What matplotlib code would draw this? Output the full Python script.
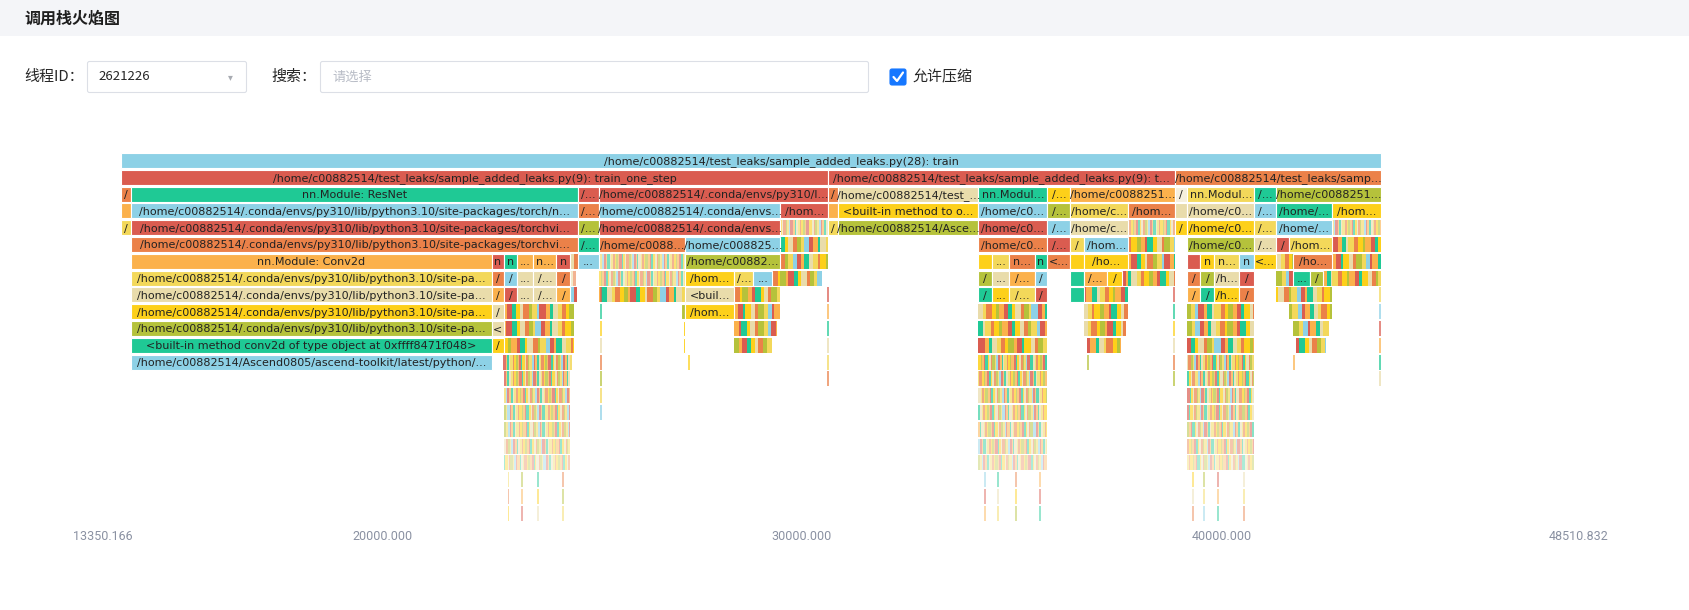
import matplotlib
matplotlib.use('Agg')
import matplotlib.pyplot as plt
from matplotlib.patches import Rectangle, FancyBboxPatch

# ---------------- data ----------------
x_ticks = [13350.166, 20000.0, 30000.0, 40000.0, 48510.832]
x_tick_labels = ['13350.166', '20000.000', '30000.000', '40000.000', '48510.832']
x_min, x_max = 13350.166, 48510.832
n_rows = 22

# frames per depth: (start, end, colour key, label)
row0 = [(13779, 43793, 'S', '/home/c00882514/test_leaks/sample_added_leaks.py(28): train')]
row0_label_at = 29512
row1 = [(13779, 30620, 'R', '/home/c00882514/test_leaks/sample_added_leaks.py(9): train_one_step'),
        (30620, 38886, 'R', '/home/c00882514/test_leaks/sample_added_leaks.py(9): t...'),
        (38886, 43793, 'O', '/home/c00882514/test_leaks/samp...')]
row2 = [(13779, 14029, 'O', '/'), (14029, 24665, 'G', 'nn.Module: ResNet'),
        (24665, 25165, 'R', '/...'), (25165, 30620, 'R', '/home/c00882514/.conda/envs/py310/l...'),
        (30620, 30859, 'O', '/'), (30859, 34205, 'B', '/home/c00882514/test_...'),
        (34205, 35849, 'G', 'nn.Modul...'), (35849, 36397, 'Y', '/...'),
        (36397, 38886, 'L', '/home/c0088251...'), (38886, 39184, 'P', '/'),
        (39184, 40780, 'W', 'nn.Modul...'), (40780, 41292, 'G', '/...'),
        (41292, 43793, 'V', '/home/c0088251...')]
row3 = [(13779, 14029, 'L', ''),
        (14029, 24665, 'S', '/home/c00882514/.conda/envs/py310/lib/python3.10/site-packages/torch/n...'),
        (24665, 25165, 'O', '/...'), (25165, 29489, 'S', '/home/c00882514/.conda/envs...'),
        (29489, 30620, 'R', '/hom...'), (30620, 30859, 'L', ''),
        (30859, 34205, 'Y', '<built-in method to o...'), (34205, 35849, 'S', '/home/c0...'),
        (35849, 36397, 'V', '/...'), (36397, 37779, 'W', '/home/c...'),
        (37779, 38886, 'O', '/hom...'), (38886, 39184, 'B', ''),
        (39184, 40780, 'B', '/home/c0...'), (40780, 41292, 'S', '/...'),
        (41292, 42638, 'G', '/home/...'), (42638, 43793, 'Y', '/hom...')]
row4 = [(13779, 14029, 'W', '/'),
        (14029, 24665, 'R', '/home/c00882514/.conda/envs/py310/lib/python3.10/site-packages/torchvi...'),
        (24665, 25165, 'V', '/...'), (25165, 29489, 'R', '/home/c00882514/.conda/envs...'),
        (30620, 30859, 'W', '/'), (30859, 34205, 'V', '/home/c00882514/Asce...'),
        (34205, 35849, 'R', '/home/c0...'), (35849, 36397, 'S', '/...'),
        (36397, 37779, 'B', '/home/c...'), (38886, 39184, 'Y', '/'),
        (39184, 40780, 'Y', '/home/c0...'), (40780, 41292, 'W', '/...'),
        (41292, 42638, 'S', '/home/...')]
row5 = [(14029, 24665, 'O', '/home/c00882514/.conda/envs/py310/lib/python3.10/site-packages/torchvi...'),
        (24665, 25165, 'G', '/...'), (25165, 27226, 'O', '/home/c0088...'),
        (27226, 29489, 'S', '/home/c008825...'),
        (34205, 35849, 'O', '/home/c0...'), (35849, 36397, 'R', '/...'),
        (36397, 36719, 'W', '/'), (36719, 37779, 'S', '/hom...'),
        (39184, 40780, 'V', '/home/c0...'), (40780, 41292, 'B', '/...'),
        (41292, 41614, 'R', '/'), (41614, 42638, 'W', '/hom...')]
row6 = [(14029, 22605, 'L', 'nn.Module: Conv2d'), (22605, 22902, 'R', 'n'),
        (22902, 23224, 'G', 'n'), (23224, 23605, 'L', '...'), (23605, 24153, 'L', 'n...'),
        (24153, 24486, 'R', 'n'), (24665, 25165, 'S', '...'),
        (27226, 29489, 'V', '/home/c00882...'),
        (34205, 34527, 'Y', ''), (34527, 34944, 'W', '...'), (34944, 35540, 'O', 'n...'),
        (35540, 35849, 'G', 'n'), (35849, 36397, 'O', '<...'), (36397, 36719, 'Y', ''),
        (36719, 37779, 'Y', '/ho...'),
        (39184, 39494, 'R', ''), (39494, 39827, 'Y', 'n'), (39827, 40423, 'W', 'n...'),
        (40423, 40780, 'S', 'n'), (40780, 41292, 'Y', '<...'), (41709, 42638, 'O', '/ho...')]
row7 = [(14029, 22605, 'W', '/home/c00882514/.conda/envs/py310/lib/python3.10/site-pa...'),
        (22605, 22902, 'O', '/'), (22902, 23224, 'S', '/'), (23224, 23605, 'B', '...'),
        (23605, 24153, 'B', '/...'), (24153, 24486, 'O', '/'),
        (27226, 28393, 'Y', '/hom...'), (28393, 28846, 'W', '/...'), (28846, 29298, 'S', '...'),
        (34205, 34527, 'V', '/'), (34527, 34944, 'B', '...'), (34944, 35540, 'L', '/...'),
        (35540, 35849, 'S', '/'), (36397, 36719, 'G', ''), (36719, 37278, 'L', '/...'),
        (37278, 37636, 'Y', '/'),
        (39184, 39494, 'O', '/'), (39494, 39827, 'V', '/'), (39827, 40423, 'B', '/h...'),
        (40423, 40780, 'R', '/'), (41709, 42102, 'G', '...'), (42102, 42424, 'V', '/')]
row8 = [(14029, 22605, 'B', '/home/c00882514/.conda/envs/py310/lib/python3.10/site-pa...'),
        (22605, 22902, 'L', '/'), (22902, 23224, 'R', '/'), (23224, 23605, 'B', '...'),
        (23605, 24153, 'B', '/...'), (24153, 24486, 'L', '/'),
        (27226, 28393, 'B', '<buil...'),
        (34205, 34527, 'G', '/'), (34527, 34944, 'Y', '...'), (34944, 35540, 'W', '/...'),
        (35540, 35849, 'R', '/'), (36397, 36719, 'G', ''),
        (39184, 39494, 'L', '/'), (39494, 39827, 'G', '/'), (39827, 40423, 'Y', '/h...'),
        (40423, 40780, 'O', '/')]
row9 = [(14029, 22605, 'Y', '/home/c00882514/.conda/envs/py310/lib/python3.10/site-pa...'),
        (22605, 22902, 'B', '/'), (27110, 27226, 'V', ''), (27226, 28393, 'Y', '/hom...')]
row10 = [(14029, 22605, 'V', '/home/c00882514/.conda/envs/py310/lib/python3.10/site-pa...'),
         (22605, 22902, 'B', '<'), (27170, 27226, 'Y', '')]
row11 = [(14029, 22605, 'G', '<built-in method conv2d of type object at 0xffff8471f048>'),
         (22605, 22902, 'Y', '/'), (27170, 27226, 'Y', '')]
row12 = [(14029, 22605, 'S', '/home/c00882514/Ascend0805/ascend-toolkit/latest/python/...')]
frames = [row0, row1, row2, row3, row4, row5, row6, row7, row8, row9, row10, row11, row12]

# blocks made of many tiny frames: (depth, start, end, texture kind)
tiny_blocks = [
    (4, 29489, 30620, 'f'), (4, 37779, 38886, 'f'), (4, 42638, 43793, 'f'),
    (5, 29489, 30620, 'c'), (5, 37779, 38886, 'c'), (5, 42638, 43793, 'c'),
    (6, 24486, 24665, 'c'), (6, 25165, 27226, 'f'), (6, 29489, 30620, 'c'),
    (6, 37779, 38886, 'c'), (6, 41292, 41709, 'c'), (6, 42638, 43793, 'c'),
    (7, 24486, 24620, 'f'), (7, 25165, 27226, 'f'), (7, 29298, 29489, 'c'),
    (7, 29489, 30470, 'c'), (7, 37636, 37779, 'c'), (7, 37779, 38886, 'c'),
    (7, 41292, 41709, 'c'), (7, 42424, 42638, 'c'), (7, 42638, 43793, 'c'),
    (8, 24486, 24650, 'c'), (8, 25165, 27226, 'c'), (8, 28393, 29489, 'c'),
    (8, 36719, 37779, 'c'), (8, 41292, 42638, 'c'),
    (9, 22902, 24580, 'c'), (9, 28393, 29489, 'c'), (9, 34205, 35849, 'c'),
    (9, 36719, 37779, 'c'), (9, 39184, 40780, 'c'), (9, 41614, 42638, 'c'),
    (10, 22902, 24580, 'c'), (10, 28393, 29400, 'c'), (10, 34205, 35849, 'c'),
    (10, 36719, 37730, 'c'), (10, 39184, 40780, 'c'), (10, 41709, 42560, 'c'),
    (11, 22902, 24580, 'c'), (11, 28393, 29298, 'c'), (11, 34205, 35849, 'c'),
    (11, 36800, 37600, 'c'), (11, 39184, 40780, 'c'), (11, 41780, 42480, 'c'),
    (12, 22880, 24530, 'f'), (12, 34205, 35849, 'f'), (12, 39184, 40780, 'f'),
    (13, 22902, 24486, 'f'), (13, 34205, 35849, 'f'), (13, 39184, 40780, 'f'),
    (14, 22902, 24486, 'f'), (14, 34205, 35849, 'f'), (14, 39184, 40780, 'f'),
    (15, 22902, 24486, 'f'), (15, 34205, 35849, 'f'), (15, 39184, 40780, 'f'),
    (16, 22902, 24486, 'f'), (16, 34205, 35849, 'f'), (16, 39184, 40780, 'f'),
    (17, 22902, 24486, 'f'), (17, 34205, 35849, 'f'), (17, 39184, 40780, 'f'),
    (18, 22902, 24486, 'f'), (18, 34205, 35849, 'f'), (18, 39184, 40780, 'f'),
]

# single very narrow frames: (first depth, last depth, start)
thin_frames = [
    (8, 15, 25189), (8, 13, 30597), (12, 12, 27285), (12, 12, 36790), (12, 12, 41697),
    (8, 13, 38850), (8, 13, 43746),
    (19, 21, 22986), (19, 21, 23307), (19, 21, 23688), (19, 21, 24284),
    (19, 21, 34336), (19, 21, 34646), (19, 21, 35075), (19, 21, 35647),
    (19, 21, 39291), (19, 21, 39553), (19, 21, 39887), (19, 21, 40506),
]

# ---------------- style ----------------
COL = {'S': '#8dd1e6', 'R': '#da5c50', 'O': '#eb8149', 'G': '#1fc995', 'L': '#fbb14c',
       'Y': '#fdd01a', 'W': '#f3d85a', 'B': '#e9dcab', 'V': '#b5c23b', 'P': '#f6f0de'}
stripe_cycle = ['Y', 'B', 'O', 'V', 'W', 'S', 'R', 'L', 'G', 'B', 'W', 'O', 'Y', 'V', 'L', 'R', 'G']
stripe_rel = [1.0, 0.6, 1.4, 0.8, 1.2, 0.5, 1.5, 1.0, 0.7, 1.3, 0.9]

W_PX, H_PX = 1690, 610
fig = plt.figure(figsize=(16.9, 6.1), dpi=100)
fig.patch.set_facecolor('white')

# ---------- page chrome ----------
ui = fig.add_axes([0, 0, 1, 1])
ui.set_xlim(0, W_PX)
ui.set_ylim(H_PX, 0)
ui.axis('off')
cjk = ['Noto Sans CJK SC', 'DejaVu Sans']
ui.add_patch(Rectangle((0, 0), W_PX, 36, facecolor='#f4f5f8', edgecolor='none'))
ui.text(24, 19, '调用栈火焰图', fontsize=11.5, fontweight='bold', family=cjk,
        color='#1f1f1f', va='center', ha='left')
ui.text(24, 77, '线程ID：', fontsize=10.8, family=cjk, color='#262626', va='center', ha='left')
ui.add_patch(FancyBboxPatch((87.5, 61.5), 159, 31, boxstyle='round,pad=0,rounding_size=2',
                            facecolor='white', edgecolor='#dcdfe6', lw=0.8))
ui.text(98, 77, '2621226', fontsize=9.5, family=cjk, color='#262626', va='center', ha='left')
ui.text(230, 77, '▾', fontsize=7, family='DejaVu Sans', color='#a8abb2', va='center', ha='center')
ui.text(271, 77, '搜索：', fontsize=10.8, family=cjk, color='#262626', va='center', ha='left')
ui.add_patch(FancyBboxPatch((320.5, 61.5), 548, 31, boxstyle='round,pad=0,rounding_size=2',
                            facecolor='white', edgecolor='#dcdfe6', lw=0.8))
ui.text(332, 77, '请选择', fontsize=9.5, family=cjk, color='#b8bcc6', va='center', ha='left')
ui.add_patch(FancyBboxPatch((890, 69), 16, 16, boxstyle='round,pad=0,rounding_size=2',
                            facecolor='#1677ff', edgecolor='#1677ff', lw=0.8))
ui.plot([893.5, 897, 903], [77, 81, 72.5], color='white', lw=1.6, solid_capstyle='round')
ui.text(913, 77, '允许压缩', fontsize=10.8, family=cjk, color='#262626', va='center', ha='left')

# ---------- flame graph ----------
top_px = 153.0
pitch_px = 16.8
bar_h = 15.0 / pitch_px
ax_left = 103 / W_PX
ax_w = (1579 - 103) / W_PX
ax_bottom = 1 - (top_px + n_rows * pitch_px) / H_PX
ax_h = n_rows * pitch_px / H_PX
ax = fig.add_axes([ax_left, ax_bottom, ax_w, ax_h])
ax.set_xlim(x_min, x_max)
ax.set_ylim(n_rows, 0)
ax.patch.set_alpha(0)
for s in ax.spines.values():
    s.set_visible(False)
ax.set_yticks([])
ax.set_xticks(x_ticks)
ax.set_xticklabels(x_tick_labels, fontsize=9, family='Roboto', color='#8a91a2')
ax.tick_params(axis='x', length=0, pad=5)

def fade(depth):
    if depth <= 11:
        return 1.0
    return max(0.35, 0.85 - 0.08 * (depth - 12))

# tiny-frame blocks
k = 0
for depth, s, e, kind in tiny_blocks:
    step = 100.0 if kind == 'c' else 42.0
    if kind == 'c':
        alpha = 1.0
    elif depth >= 12:
        alpha = fade(depth)
    else:
        alpha = 0.6
    x = s
    while x < e - 1:
        w = step * stripe_rel[k % len(stripe_rel)]
        w = min(w, e - x)
        ax.add_patch(Rectangle((x, depth), w, bar_h, facecolor=COL[stripe_cycle[k % len(stripe_cycle)]],
                               edgecolor='none', alpha=alpha))
        x += w
        k += 1

for d0, d1, s in thin_frames:
    for depth in range(d0, d1 + 1):
        a = 0.45 if depth >= 19 else 0.7
        ax.add_patch(Rectangle((s, depth), 38, bar_h, facecolor=COL[stripe_cycle[k % len(stripe_cycle)]],
                               edgecolor='none', alpha=a))
        k += 1

# named frames
for depth, row in enumerate(frames):
    for s, e, c, label in row:
        ax.add_patch(Rectangle((s, depth), e - s, bar_h, facecolor=COL[c], edgecolor='white', lw=0.8))
        if label:
            lx = row0_label_at if depth == 0 else (s + e) / 2
            ax.text(lx, depth + bar_h / 2, label, ha='center', va='center_baseline',
                    fontsize=8, family='DejaVu Sans', color='#222222', clip_on=True)

fig.savefig('out.png', dpi=100, facecolor=fig.get_facecolor())
